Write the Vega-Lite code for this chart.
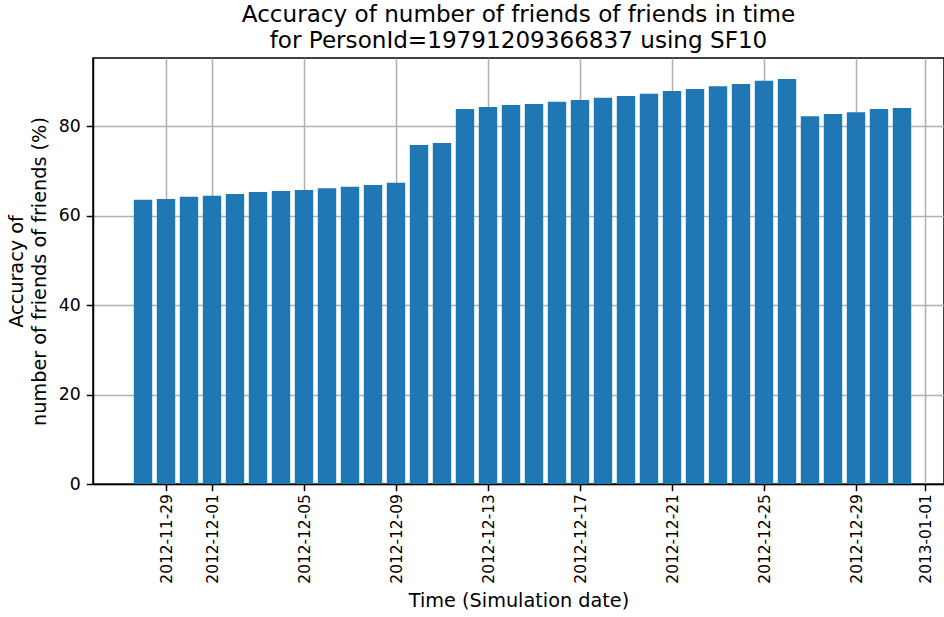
{
  "$schema": "https://vega.github.io/schema/vega-lite/v6.json",
  "autosize": {"type": "none"},
  "padding": {"left": 93, "top": 58, "right": 0, "bottom": 133},
  "width": 851,
  "height": 426,
  "background": "white",
  "title": {
    "text": ["Accuracy of number of friends of friends in time", "for PersonId=19791209366837 using SF10"],
    "font": "DejaVu Sans",
    "fontSize": 23.1,
    "fontWeight": "normal",
    "color": "black",
    "lineHeight": 26,
    "offset": 5,
    "anchor": "middle"
  },
  "data": {
    "values": [
      {"date": "2012-11-28", "acc": 63.5},
      {"date": "2012-11-29", "acc": 63.7},
      {"date": "2012-11-30", "acc": 64.2},
      {"date": "2012-12-01", "acc": 64.4},
      {"date": "2012-12-02", "acc": 64.8},
      {"date": "2012-12-03", "acc": 65.25},
      {"date": "2012-12-04", "acc": 65.5},
      {"date": "2012-12-05", "acc": 65.7},
      {"date": "2012-12-06", "acc": 66.1},
      {"date": "2012-12-07", "acc": 66.4},
      {"date": "2012-12-08", "acc": 66.8},
      {"date": "2012-12-09", "acc": 67.3},
      {"date": "2012-12-10", "acc": 75.75},
      {"date": "2012-12-11", "acc": 76.2},
      {"date": "2012-12-12", "acc": 83.8},
      {"date": "2012-12-13", "acc": 84.25},
      {"date": "2012-12-14", "acc": 84.7},
      {"date": "2012-12-15", "acc": 84.9},
      {"date": "2012-12-16", "acc": 85.4},
      {"date": "2012-12-17", "acc": 85.8},
      {"date": "2012-12-18", "acc": 86.3},
      {"date": "2012-12-19", "acc": 86.7},
      {"date": "2012-12-20", "acc": 87.2},
      {"date": "2012-12-21", "acc": 87.8},
      {"date": "2012-12-22", "acc": 88.3},
      {"date": "2012-12-23", "acc": 88.9},
      {"date": "2012-12-24", "acc": 89.4},
      {"date": "2012-12-25", "acc": 90.1},
      {"date": "2012-12-26", "acc": 90.5},
      {"date": "2012-12-27", "acc": 82.2},
      {"date": "2012-12-28", "acc": 82.7},
      {"date": "2012-12-29", "acc": 83.1},
      {"date": "2012-12-30", "acc": 83.8},
      {"date": "2012-12-31", "acc": 84.0}
    ],
    "format": {"parse": {"date": "utc:'%Y-%m-%d'"}}
  },
  "mark": {"type": "bar", "color": "#1f77b4", "width": 18.4},
  "encoding": {
    "x": {
      "field": "date",
      "type": "temporal",
      "scale": {"type": "utc", "domain": [1353872966400, 1357069766400], "nice": false, "padding": 0},
      "axis": {
        "values": [1354147200000, 1354320000000, 1354665600000, 1355011200000, 1355356800000, 1355702400000, 1356048000000, 1356393600000, 1356739200000, 1356998400000],
        "labelExpr": "utcFormat(datum.value, '%Y-%m-%d')",
        "labelAngle": -90,
        "labelFontSize": 15.4,
        "labelPadding": 3,
        "title": "Time (Simulation date)",
        "titleFontSize": 19.25,
        "titleFontWeight": "normal",
        "titlePadding": 8,
        "grid": true
      }
    },
    "y": {
      "field": "acc",
      "type": "quantitative",
      "scale": {"domain": [0, 95.2], "nice": false, "zero": true},
      "axis": {
        "values": [0, 20, 40, 60, 80],
        "labelFontSize": 17.3,
        "labelPadding": 6,
        "title": ["Accuracy of", "number of friends of friends (%)"],
        "titleFontSize": 19.25,
        "titleFontWeight": "normal",
        "titleLineHeight": 23,
        "titlePadding": 9,
        "grid": true
      }
    }
  },
  "config": {
    "font": "DejaVu Sans",
    "view": {"stroke": "black", "strokeWidth": 1.5},
    "axis": {
      "zindex": 1,
      "labelFont": "DejaVu Sans",
      "titleFont": "DejaVu Sans",
      "labelColor": "black",
      "titleColor": "black",
      "domainColor": "black",
      "domainWidth": 1.5,
      "tickColor": "black",
      "tickSize": 6.7,
      "tickWidth": 1.5,
      "gridColor": "#b0b0b0",
      "gridWidth": 1.5,
      "gridOpacity": 1
    }
  }
}
